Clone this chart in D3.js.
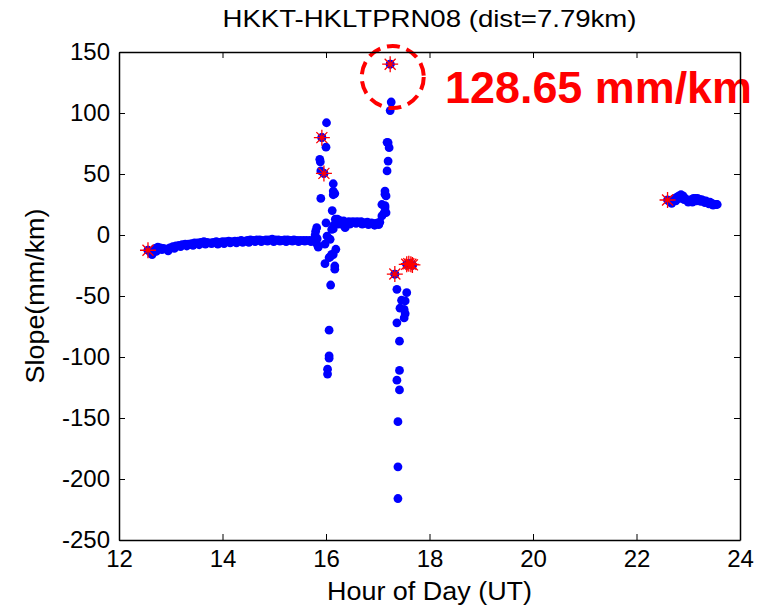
<!DOCTYPE html>
<html>
<head>
<meta charset="utf-8">
<script src="https://cdn.jsdelivr.net/npm/d3@7"></script>
<style>
  body { margin: 0; background: #fff; }
  text { font-family: "Liberation Sans", Arial, sans-serif; }
</style>
</head>
<body>
<div id="slope-plot"></div>
<script>

// main track before the event (hour, slope)
var trackHour = [12.56, 12.62, 12.64, 12.66, 12.68, 12.70, 12.75, 12.80, 12.86, 12.92, 12.98, 13.04, 13.10, 13.16, 13.22, 13.28, 13.34, 13.40, 13.46, 13.52, 13.58, 13.64, 13.70, 13.76, 13.82, 13.88, 13.94, 14.00, 14.06, 14.12, 14.18, 14.24, 14.30, 14.36, 14.42, 14.48, 14.54, 14.60, 14.66, 14.72, 14.78, 14.84, 14.90, 14.96, 15.02, 15.08, 15.14, 15.20, 15.26, 15.32, 15.38, 15.44, 15.50, 15.56, 15.62, 15.68, 15.74, 15.78];
var trackSlope = [-12.5, -15, -16, -14, -13, -11, -10, -10.5, -11, -11.5, -10.5, -9.5, -9, -8.5, -8, -7.5, -7.5, -7, -6.5, -6.5, -6, -5.5, -6, -6.5, -6, -5.5, -6, -5.5, -5.5, -5, -5.5, -5, -5, -4.5, -5, -4.5, -4, -4.5, -4, -4, -4.5, -4, -4, -3.5, -4, -4, -4.5, -4, -4, -4.5, -4, -4.5, -4.5, -4.5, -4.5, -4.5, -4.5, -4];
// second row of the same track, slightly apart
var track2Hour = [12.72, 12.83, 12.95, 13.07, 13.19, 13.31, 13.43, 13.55, 13.67, 13.79, 13.91, 14.03, 14.15, 14.27, 14.39, 14.51, 14.63, 14.75, 14.87, 14.99, 15.11, 15.23, 15.35, 15.47, 15.59, 15.71];
var track2Slope = [-13.5, -12, -13, -11, -9.5, -9, -8.5, -8, -7.5, -7, -7.5, -7, -6.5, -6.5, -6, -6, -5.5, -5.5, -5, -5.5, -5, -5.5, -5, -5.5, -5, -5.5];

// jump around 16 h
var jumpHour = [15.80, 15.82, 15.79, 15.83, 15.82, 15.85, 15.90, 15.88, 15.89, 15.90, 15.92, 15.96, 16.00, 16.01, 16.14, 16.14, 16.17, 16.14, 16.12, 16.00, 16.02, 15.98, 16.08, 16.11, 16.19, 16.11, 16.06, 15.98, 16.17, 16.17, 16.09, 16.06, 16.06, 16.06, 16.03, 16.03, 16.14, 16.08];
var jumpSlope = [3, 6, 0, -3, -7, -10, 30, 62, 60, 52.5, 80, 50.5, 72, 92, 42, 36, 34, 33, 20, 10, -1, -7.5, -3.5, 4.6, -11.7, -15.8, -18.6, -23.5, -25.4, -28, -41, -78, -99, -101, -110, -114, -16, -18];

// flat part between the two jumps
var flatHour = [16.14, 16.15, 16.18, 16.20, 16.22, 16.26, 16.30, 16.34, 16.37, 16.40, 16.44, 16.48, 16.52, 16.56, 16.60, 16.64, 16.68, 16.72, 16.76, 16.80, 16.84, 16.88, 16.92, 16.96, 17.00, 17.04, 17.08, 16.24, 16.32, 16.46, 16.58, 16.70, 16.82, 16.94, 17.02];
var flatSlope = [5, 8, 13, 12.5, 13, 12, 11, 11.5, 6, 10, 11, 10.5, 11, 10.5, 11, 10.5, 11, 10, 10, 10.5, 9.5, 10, 9, 9.5, 10, 10.5, 15.6, 9, 8.5, 9, 9.5, 9, 8.5, 8, 8.5];

// rise to the peak near 17.2 h
var riseHour = [17.08, 17.12, 17.14, 17.14, 17.16, 17.14, 17.14, 17.16, 17.18, 17.20, 17.20, 17.22, 17.18, 17.24, 17.26, 17.24];
var riseSlope = [25, 18, 22.4, 24, 18.3, 33.5, 36, 32, 52.5, 60.6, 75.7, 71.6, 76, 102, 109, 140];

// drop after the peak
var dropHour = [17.33, 17.37, 17.56, 17.46, 17.53, 17.43, 17.51, 17.53, 17.51, 17.37, 17.42, 17.42, 17.37, 17.42, 17.39, 17.39, 17.39, 17.56, 17.62, 17.67];
var dropSlope = [-32, -44.5, -47.3, -53.5, -54, -60, -61, -64.5, -68, -72, -87, -111, -119, -127, -153, -190, -216, -24, -23.5, -25];

// late pass 22.6 - 23.6 h
var lateHour = [22.62, 22.66, 22.70, 22.74, 22.78, 22.82, 22.86, 22.90, 22.94, 22.98, 23.02, 23.06, 23.10, 23.14, 23.18, 23.22, 23.26, 23.30, 23.34, 23.38, 23.42, 23.46, 23.50, 23.54, 23.56, 22.68, 22.76, 22.84, 22.92, 23.00, 23.08, 23.16, 23.24, 23.32, 23.40, 23.48];
var lateSlope = [28, 27, 29, 30, 31, 32, 33, 32, 30, 28, 28, 29, 30, 30, 30, 29, 29, 28, 28, 27, 27, 26, 25, 25, 25, 26, 28, 30, 29, 27, 27, 28, 27.5, 26.5, 25.5, 24.5];

// red star markers
var starHour = [12.56, 15.92, 15.96, 17.24, 17.33, 17.56, 17.60, 17.64, 17.67, 22.60];
var starSlope = [-12.5, 79.8, 50.5, 140, -32, -24, -23.5, -24, -24.5, 28.7];

// ticks and texts
var xTicks = [12, 14, 16, 18, 20, 22, 24];
var yTicks = [-250, -200, -150, -100, -50, 0, 50, 100, 150];
var peakLabel = "128.65 mm/km";
var peakCircle = [17.29, 129.5];
var peakText = [18.3, 108];

// set the dimensions and margins of the graph
var margin = {top: 52, right: 20, bottom: 70, left: 119},
    width = 740 - margin.left,
    height = 540 - margin.top;

var svg = d3.select("#slope-plot")
  .append("svg")
    .attr("width", 760)
    .attr("height", 610)
  .append("g")
    .attr("transform", "translate(" + margin.left + "," + margin.top + ")");

var x = d3.scaleLinear().domain([12, 24]).range([0, width]);
var y = d3.scaleLinear().domain([-250, 150]).range([height, 0]);

// points from all the pieces
function pairs(hs, vs) {
  return hs.map(function(h, i) { return {hour: h, slope: vs[i]}; });
}
var dots = [].concat(
  pairs(trackHour, trackSlope),
  pairs(track2Hour, track2Slope),
  pairs(jumpHour, jumpSlope),
  pairs(flatHour, flatSlope),
  pairs(riseHour, riseSlope),
  pairs(dropHour, dropSlope),
  pairs(lateHour, lateSlope),
  pairs(starHour, starSlope)
);
var stars = pairs(starHour, starSlope);

svg.selectAll(".dot")
  .data(dots)
  .enter()
  .append("circle")
    .attr("class", "dot")
    .attr("cx", function(d) { return x(d.hour); })
    .attr("cy", function(d) { return y(d.slope); })
    .attr("r", 4.4)
    .attr("fill", "#0000ff");

// star = 4 crossing lines
var s = 8, s2 = 5.5;
svg.selectAll(".star")
  .data(stars)
  .enter()
  .append("path")
    .attr("class", "star")
    .attr("transform", function(d) { return "translate(" + x(d.hour) + "," + y(d.slope) + ")"; })
    .attr("d", "M" + -s + ",0H" + s + "M0," + -s + "V" + s +
               "M" + -s2 + "," + -s2 + "L" + s2 + "," + s2 +
               "M" + -s2 + "," + s2 + "L" + s2 + "," + -s2)
    .attr("stroke", "#ff0000")
    .attr("stroke-width", 1.3)
    .attr("fill", "none");

// annotation
svg.append("circle")
  .attr("cx", x(peakCircle[0]))
  .attr("cy", y(peakCircle[1]))
  .attr("r", 31)
  .attr("fill", "none")
  .attr("stroke", "#ff0000")
  .attr("stroke-width", 4)
  .attr("stroke-dasharray", "13,7");

svg.append("text")
  .attr("x", x(peakText[0]))
  .attr("y", y(peakText[1]))
  .attr("fill", "#ff0000")
  .attr("textLength", 307)
  .attr("lengthAdjust", "spacingAndGlyphs")
  .style("font-size", "44px")
  .style("font-weight", "bold")
  .text(peakLabel);

// axes, MATLAB box with inward ticks
var tickLen = 6;
var fmt = function(d) { return String(d); };
svg.append("g")
  .attr("transform", "translate(0," + height + ")")
  .call(d3.axisBottom(x).tickValues(xTicks).tickFormat(fmt).tickSizeInner(-tickLen).tickSizeOuter(0).tickPadding(10));
svg.append("g")
  .call(d3.axisTop(x).tickValues(xTicks).tickSizeInner(-tickLen).tickSizeOuter(0).tickFormat(""));
svg.append("g")
  .call(d3.axisLeft(y).tickValues(yTicks).tickFormat(fmt).tickSizeInner(-tickLen).tickSizeOuter(0).tickPadding(9));
svg.append("g")
  .attr("transform", "translate(" + width + ",0)")
  .call(d3.axisRight(y).tickValues(yTicks).tickSizeInner(-tickLen).tickSizeOuter(0).tickFormat(""));

svg.selectAll(".domain").attr("stroke", "#000").attr("stroke-width", 1.5);
svg.selectAll(".tick line").attr("stroke", "#000");
svg.selectAll(".tick text")
  .attr("fill", "#000")
  .style("font-size", "24px")
  .style("font-family", "'Liberation Sans', Arial, sans-serif");

// title and labels
svg.append("text")
  .attr("x", width / 2)
  .attr("y", -25)
  .attr("text-anchor", "middle")
  .attr("textLength", 414)
  .attr("lengthAdjust", "spacingAndGlyphs")
  .style("font-size", "24px")
  .text("HKKT-HKLTPRN08 (dist=7.79km)");

svg.append("text")
  .attr("x", width / 2)
  .attr("y", height + 60)
  .attr("text-anchor", "middle")
  .attr("textLength", 205)
  .attr("lengthAdjust", "spacingAndGlyphs")
  .style("font-size", "25px")
  .text("Hour of Day (UT)");

svg.append("text")
  .attr("transform", "rotate(-90)")
  .attr("x", -244)
  .attr("y", -75)
  .attr("text-anchor", "middle")
  .attr("textLength", 175)
  .attr("lengthAdjust", "spacingAndGlyphs")
  .style("font-size", "25px")
  .text("Slope(mm/km)");

</script>
</body>
</html>
